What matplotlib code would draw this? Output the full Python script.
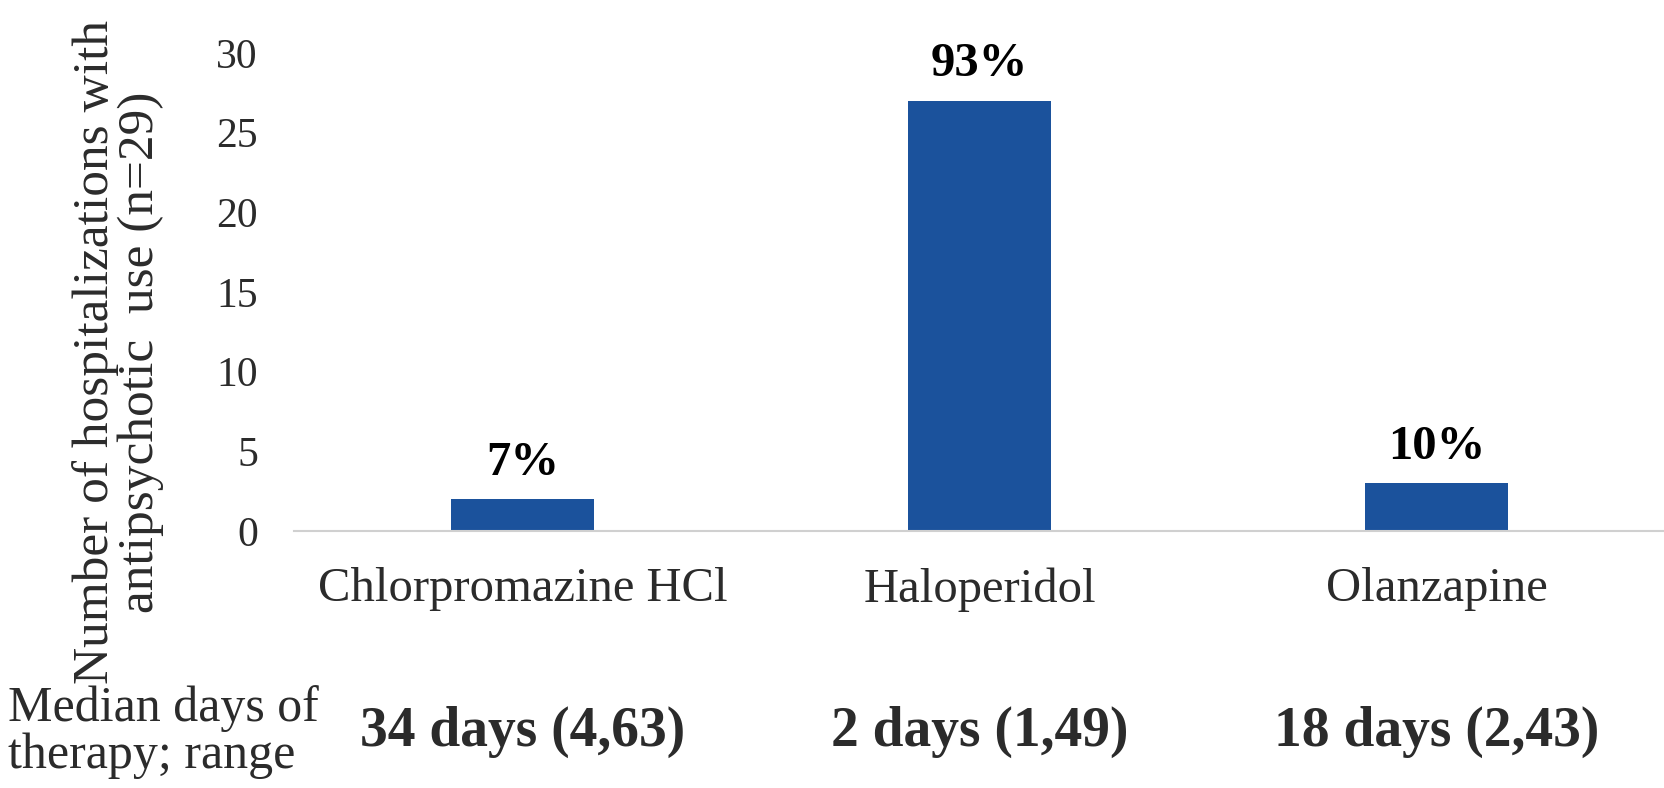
import numpy as np
import matplotlib.pyplot as plt

drugs = ["Chlorpromazine HCl", "Haloperidol", "Olanzapine"]
counts = [2, 27, 3]
pct_labels = ["7%", "93%", "10%"]
median_days = ["34 days (4,63)", "2 days (1,49)", "18 days (2,43)"]

plt.rcParams['font.family'] = ['Liberation Serif', 'DejaVu Serif']

fig = plt.figure(figsize=(16.64, 7.88), dpi=100)
ax = fig.add_axes([0.1767, 0.326, 0.824, 0.607])

x = np.arange(len(drugs))
bars = ax.bar(x, counts, width=0.313, color='#1B529C')

for xi, c, lab in zip(x, counts, pct_labels):
    ax.text(xi, c + 0.9, lab, ha='center', va='bottom', fontsize=35,
            fontweight='bold', color='black')

ax.set_xlim(-0.5, 2.5)
ax.set_ylim(0, 30)
ax.set_yticks(range(0, 31, 5))
ax.set_xticks(x)
ax.set_xticklabels(drugs, fontsize=35, color='#2b2b2b')
ax.tick_params(axis='y', labelsize=30, labelcolor='#2b2b2b', length=0, pad=26)
ax.tick_params(axis='x', length=0, pad=26)

for s in ['top', 'right', 'left']:
    ax.spines[s].set_visible(False)
ax.spines['bottom'].set_color('#d0d0d0')
ax.spines['bottom'].set_linewidth(1.5)

ax.set_ylabel("Number of hospitalizations with\nantipsychotic  use (n=29)",
              fontsize=37, color='#2b2b2b', linespacing=0.95)
ax.yaxis.set_label_coords(-0.095, 0.374)

# median days row under the chart
fig.text(0.005, 0.071, "Median days of\ntherapy; range", fontsize=36,
         color='#2b2b2b', ha='left', va='center', linespacing=1.0)
trans = ax.get_xaxis_transform()
for xi, txt in zip(x, median_days):
    ax.text(xi, -0.42, txt, transform=trans, ha='center', va='center',
            fontsize=40, fontweight='bold', color='#2b2b2b')

fig.savefig('out.png', dpi=100)
